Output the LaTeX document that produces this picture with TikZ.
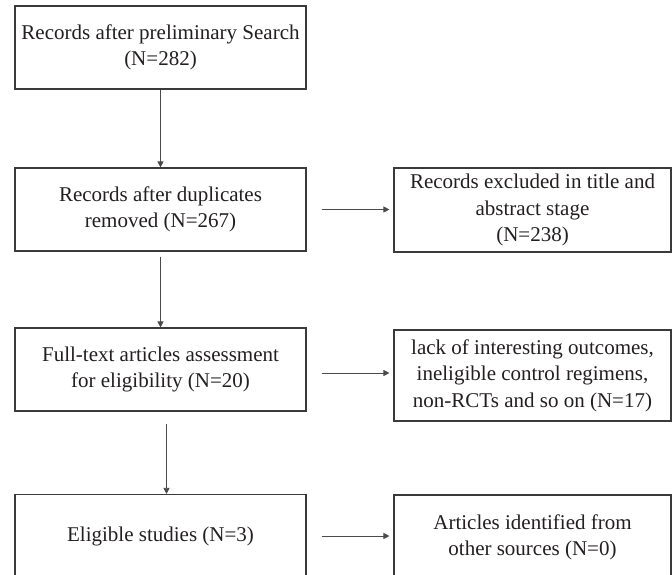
\documentclass[tikz,border=0pt]{standalone}
\usepackage{fontspec}
\setmainfont{Liberation Serif}
\usetikzlibrary{arrows.meta}
\definecolor{boxline}{HTML}{3A3A3A}
\definecolor{arrline}{HTML}{4A4A4A}
\definecolor{txt}{HTML}{231F20}
\tikzset{
	leftbox/.style={draw=boxline,line width=1.1pt,minimum width=291pt,minimum height=83pt,align=center,text=txt,font=\fontsize{21}{26.5}\selectfont},
	rightbox/.style={leftbox,minimum width=277pt},
	flow/.style={arrline,line width=0.7pt,-{Triangle[length=6pt,width=6pt]}}
}

\begin{document}
\begin{tikzpicture}[x=1pt,y=-1pt]
			\useasboundingbox (0,0) rectangle (672,575);
			\node[leftbox] (search) at (160.5,47.5) {Records after preliminary Search\\(N=282)};
			\node[leftbox] (dup) at (160.5,209.5) {Records after duplicates\\removed (N=267)};
			\node[leftbox] (full) at (160.5,369.5) {Full-text articles assessment\\for eligibility (N=20)};
			\node[leftbox] (elig) at (160.5,536) {Eligible studies (N=3)};
			\node[rightbox,minimum height=84pt] (excl) at (532.5,210) {Records excluded in title and\\abstract stage\\(N=238)};
			\node[rightbox,minimum height=91pt] (lack) at (532.5,375.5) {lack of interesting outcomes,\\ineligible control regimens,\\non-RCTs and so on (N=17)};
			\node[rightbox,minimum height=85pt] (other) at (532.5,537.5) {Articles identified from\\other sources (N=0)};
			\path[flow]
			(search) edge (dup)
			(dup) edge [shorten <=5pt] (full)
			([xshift=6pt]full.south) edge [shorten <=12pt] ([xshift=6pt]elig.north)
			(dup.east) edge [shorten <=15pt,shorten >=4pt] (dup.east -| excl.west)
			([yshift=-3.5pt]full.east) edge [shorten <=15pt,shorten >=4pt] ([yshift=-3.5pt]full.east -| lack.west)
			(elig.east) edge [shorten <=15pt,shorten >=4pt] (elig.east -| other.west);
		\end{tikzpicture}
\end{document}
